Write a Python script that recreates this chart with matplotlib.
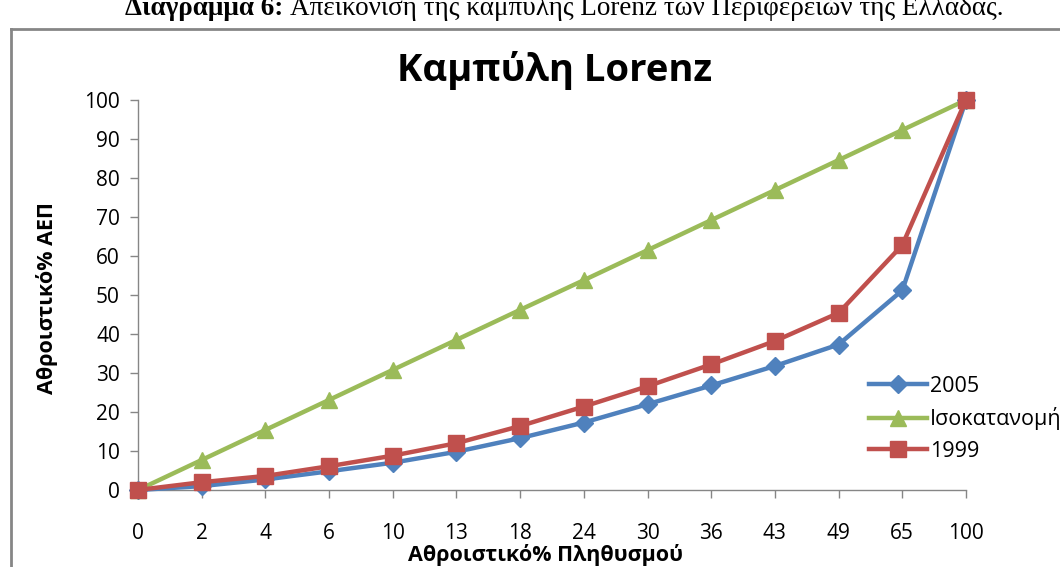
import matplotlib
matplotlib.use("Agg")
import matplotlib.pyplot as plt
from matplotlib.lines import Line2D

plt.rcParams['font.family'] = ['Open Sans', 'DejaVu Sans']

# data
categories = ['0', '2', '4', '6', '10', '13', '18', '24', '30', '36', '43', '49', '65', '100']
y2005 = [0, 1.0, 2.7, 4.8, 7.0, 9.8, 13.3, 17.3, 22.0, 26.8, 31.8, 37.3, 51.2, 100]
equal = [0, 7.7, 15.4, 23.1, 30.8, 38.5, 46.2, 53.8, 61.5, 69.2, 76.9, 84.6, 92.3, 100]
y1999 = [0, 2.0, 3.6, 6.1, 8.8, 12.0, 16.4, 21.4, 26.6, 32.2, 38.2, 45.4, 62.8, 100]

blue = '#4F81BD'
green = '#9BBB59'
red = '#C0504D'
grey = '#868686'

fig = plt.figure(figsize=(10.6, 5.67), dpi=100)
W, H = 1060, 567

# caption above the chart (its top is cut off, like in the scan)
serif = ['Liberation Serif', 'DejaVu Serif']
cap1 = fig.text(125 / W, 1 - 15 / H, 'Διάγραμμα 6: ', fontsize=19.5, fontweight='bold',
                family=serif, ha='left', va='baseline')
fig.canvas.draw()
bb = cap1.get_window_extent()
fig.text(bb.x1 / W, 1 - 15 / H, 'Απεικόνιση της καμπύλης Lorenz των Περιφερειών της Ελλάδας.',
         fontsize=19.5, family=serif, ha='left', va='baseline')

# chart frame
fig.add_artist(Line2D([11 / W, 11 / W], [0, 1 - 29 / H], color=grey, lw=2, transform=fig.transFigure))
fig.add_artist(Line2D([11 / W, 1], [1 - 29 / H, 1 - 29 / H], color=grey, lw=2, transform=fig.transFigure))

ax = fig.add_axes([138 / W, 1 - 490 / H, (966 - 138) / W, 390 / H])
x = list(range(len(categories)))

ax.plot(x, y2005, color=blue, lw=3.2, marker='D', markersize=9, label='2005', clip_on=False, zorder=3)
ax.plot(x, equal, color=green, lw=3.2, marker='^', markersize=12, label='Ισοκατανομή', clip_on=False, zorder=3)
ax.plot(x, y1999, color=red, lw=3.2, marker='s', markersize=11, label='1999', clip_on=False, zorder=4)

ax.set_xlim(0, len(categories) - 1)
ax.set_ylim(0, 100)
ax.set_xticks(x)
ax.set_xticklabels(categories)
ax.set_yticks(range(0, 101, 10))

for s in ['top', 'right']:
    ax.spines[s].set_visible(False)
for s in ['left', 'bottom']:
    ax.spines[s].set_color(grey)
    ax.spines[s].set_linewidth(1)
ax.tick_params(axis='both', colors=grey, labelcolor='black', labelsize=15, length=6, width=1)
ax.tick_params(axis='x', pad=18)
ax.tick_params(axis='y', pad=7)

fig.text(555 / W, 1 - 70 / H, 'Καμπύλη Lorenz', fontsize=27.5, fontweight='bold', ha='center', va='center')
fig.text(47 / W, 1 - 298 / H, 'Αθροιστικό% ΑΕΠ', fontsize=15.5, fontweight='bold', rotation=90,
         ha='center', va='center')
fig.text(545 / W, 1 - 555 / H, 'Αθροιστικό% Πληθυσμού', fontsize=15.5, fontweight='bold',
         ha='center', va='center')

fig.legend(loc='upper left', bbox_to_anchor=(869 / W, 1 - 376 / H), frameon=False, fontsize=15.5,
           handlelength=2.7, handletextpad=0.15, labelspacing=0.48, borderaxespad=0, borderpad=0)

fig.savefig('out.png', dpi=100)
